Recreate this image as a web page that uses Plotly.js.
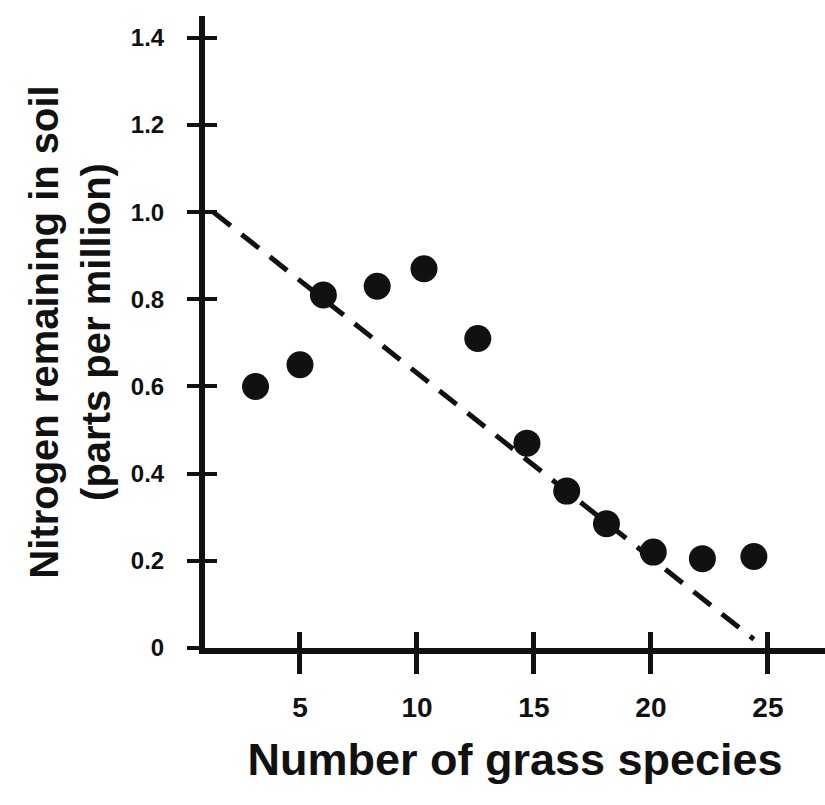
<!DOCTYPE html>
<html>
<head>
<meta charset="utf-8">
<script src="https://cdn.plot.ly/plotly-3.0.1.min.js"></script>
<style>html,body{margin:0;padding:0;background:#fff;}#chart{width:825px;height:805px;}</style>
</head>
<body>
<div id="chart"></div>
<script>
// Data
const speciesCount = [3.1, 5.0, 6.0, 8.3, 10.3, 12.6, 14.7, 16.4, 18.1, 20.1, 22.2, 24.4];
const nitrogenPpm  = [0.60, 0.65, 0.81, 0.83, 0.87, 0.71, 0.47, 0.36, 0.285, 0.22, 0.205, 0.21];
const trendX = [1.3, 24.4];
const trendY = [1.0, 0.02];
const xTickVals = [5, 10, 15, 20, 25];
const xTickText = ['5', '10', '15', '20', '25'];
const yTickVals = [0, 0.2, 0.4, 0.6, 0.8, 1.0, 1.2, 1.4];
const yTickText = ['0', '0.2', '0.4', '0.6', '0.8', '1.0', '1.2', '1.4'];

const ink = '#111111';
const FONT = 'Liberation Sans, Arial, sans-serif';

const traces = [
  {
    x: trendX, y: trendY, type: 'scatter', mode: 'lines',
    line: {color: ink, width: 5, dash: '22px,14px'},
    hoverinfo: 'skip', showlegend: false
  },
  {
    x: speciesCount, y: nitrogenPpm, type: 'scatter', mode: 'markers',
    marker: {color: ink, size: 27, line: {width: 0}},
    showlegend: false
  }
];

const xRange = [0.94, 27.44];
const yRange = [0, 1.45];

const layout = {
  width: 825, height: 805,
  margin: {l: 205, r: 0, t: 16, b: 157},
  paper_bgcolor: '#ffffff', plot_bgcolor: '#ffffff',
  font: {family: FONT, color: ink},
  showlegend: false,
  xaxis: {
    range: xRange, showgrid: false, zeroline: false,
    showline: true, linecolor: ink, linewidth: 6,
    ticks: 'outside', ticklen: 20, tickwidth: 5, tickcolor: ink,
    tickmode: 'array', tickvals: xTickVals, ticktext: xTickText,
    tickfont: {family: FONT, size: 28, color: ink, weight: 'bold'},
    ticklabelstandoff: 9,
    title: {text: '<b>Number of grass species</b>', font: {family: FONT, size: 45, color: ink}, standoff: 24}
  },
  xaxis2: {
    range: xRange, overlaying: 'x', anchor: 'y', side: 'bottom',
    showgrid: false, zeroline: false, showline: false,
    ticks: 'inside', ticklen: 16, tickwidth: 5, tickcolor: ink,
    tickmode: 'array', tickvals: xTickVals, showticklabels: false
  },
  yaxis: {
    range: yRange, showgrid: false, zeroline: false,
    showline: true, linecolor: ink, linewidth: 6,
    ticks: 'outside', ticklen: 12, tickwidth: 4, tickcolor: ink,
    tickmode: 'array', tickvals: yTickVals, ticktext: yTickText,
    tickfont: {family: FONT, size: 24, color: ink, weight: 'bold'},
    ticklabelstandoff: 18,
    title: {text: '<b>Nitrogen remaining in soil<br>(parts per million)</b>', font: {family: FONT, size: 40, color: ink}, standoff: 10}
  },
  yaxis2: {
    range: yRange, overlaying: 'y', anchor: 'x', side: 'left',
    showgrid: false, zeroline: false, showline: false,
    ticks: 'inside', ticklen: 12, tickwidth: 4, tickcolor: ink,
    tickmode: 'array', tickvals: yTickVals, showticklabels: false
  }
};

// Invisible trace to activate the inside-tick overlay axes
traces.push({x: [xRange[0]], y: [yRange[0]], xaxis: 'x2', yaxis: 'y2', mode: 'markers',
  marker: {opacity: 0}, hoverinfo: 'skip', showlegend: false, type: 'scatter'});

Plotly.newPlot('chart', traces, layout, {displayModeBar: false, staticPlot: true});
</script>
</body>
</html>
